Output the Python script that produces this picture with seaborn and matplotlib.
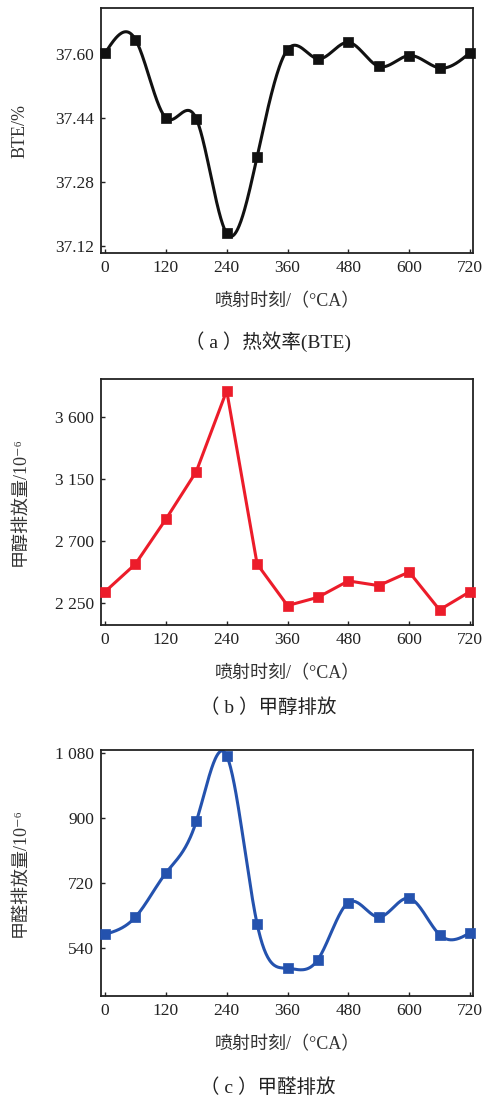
import numpy as np
import pandas as pd
import matplotlib
matplotlib.use("Agg")
import matplotlib.pyplot as plt
import seaborn as sns

# ---- data ----
angle = [0, 60, 120, 180, 240, 300, 360, 420, 480, 540, 600, 660, 720]
bte = [37.602, 37.636, 37.440, 37.438, 37.151, 37.343, 37.611, 37.588,
       37.629, 37.569, 37.596, 37.565, 37.603]
methanol = [2334, 2535, 2860, 3206, 3793, 2535, 2233, 2293, 2412, 2378,
            2477, 2202, 2334]
formaldehyde = [578, 626, 748, 891, 1073, 607, 484, 508, 666, 626, 678, 577, 582]

x_ticks = [0, 120, 240, 360, 480, 600, 720]
bte_ticks = [37.12, 37.28, 37.44, 37.60]
bte_ticklabels = ["37.12", "37.28", "37.44", "37.60"]
meth_ticks = [2250, 2700, 3150, 3600]
meth_ticklabels = ["2 250", "2 700", "3 150", "3 600"]
form_ticks = [540, 720, 900, 1080]
form_ticklabels = ["540", "720", "900", "1 080"]

xlabel = "喷射时刻/（°CA）"
ylabels = ["BTE/%", "甲醇排放量/10⁻⁶", "甲醛排放量/10⁻⁶"]
captions = ["（ a ）热效率(BTE)", "（ b ）甲醇排放", "（ c ）甲醛排放"]


def natural_spline(x, y, n=600):
    x = np.asarray(x, float)
    y = np.asarray(y, float)
    k = len(x)
    h = np.diff(x)
    A = np.zeros((k, k))
    r = np.zeros(k)
    A[0, 0] = A[-1, -1] = 1
    for i in range(1, k - 1):
        A[i, i - 1] = h[i - 1]
        A[i, i] = 2 * (h[i - 1] + h[i])
        A[i, i + 1] = h[i]
        r[i] = 6 * ((y[i + 1] - y[i]) / h[i] - (y[i] - y[i - 1]) / h[i - 1])
    M = np.linalg.solve(A, r)
    xs = np.linspace(x[0], x[-1], n)
    idx = np.clip(np.searchsorted(x, xs) - 1, 0, k - 2)
    x0, x1 = x[idx], x[idx + 1]
    hh = x1 - x0
    t0, t1 = x1 - xs, xs - x0
    ys = (M[idx] * t0 ** 3 + M[idx + 1] * t1 ** 3) / (6 * hh) \
        + (y[idx] / hh - M[idx] * hh / 6) * t0 \
        + (y[idx + 1] / hh - M[idx + 1] * hh / 6) * t1
    return xs, ys


sns.set_style("ticks")
FAM = ['Liberation Serif', 'Noto Sans CJK SC', 'DejaVu Serif']
plt.rcParams['font.family'] = FAM
plt.rcParams['axes.unicode_minus'] = False

fig = plt.figure(figsize=(4.84, 11.02), dpi=100)

W, H = 484, 1102
boxes = [(101, 8, 473, 253), (101, 379, 473, 625), (101, 750, 473, 996)]
colors = ["#111111", "#ec1c2a", "#2452ae"]
series = [bte, methanol, formaldehyde]
smooth = [True, False, True]
ylims = [(37.102, 37.715), (2092, 3878), (407, 1089)]
yticks = [(bte_ticks, bte_ticklabels), (meth_ticks, meth_ticklabels),
          (form_ticks, form_ticklabels)]
caption_y = [342, 708, 1088]

for i in range(3):
    l, t, r, b = boxes[i]
    ax = fig.add_axes([l / W, 1 - b / H, (r - l) / W, (b - t) / H])
    df = pd.DataFrame({"x": angle, "y": series[i]})
    if smooth[i]:
        xs, ys = natural_spline(angle, series[i])
        sdf = pd.DataFrame({"x": xs, "y": ys})
    else:
        sdf = df
    sns.lineplot(data=sdf, x="x", y="y", ax=ax, color=colors[i], lw=2.2,
                 sort=False, estimator=None)
    sns.scatterplot(data=df, x="x", y="y", ax=ax, color=colors[i], marker="s",
                    s=48, edgecolor=colors[i], linewidth=0.5, zorder=5,
                    clip_on=False)
    ax.set_xlim(-8, 726)
    ax.set_ylim(*ylims[i])
    ax.set_xticks(x_ticks)
    ax.set_xticklabels([str(v) for v in x_ticks])
    ax.set_yticks(yticks[i][0])
    ax.set_yticklabels(yticks[i][1])
    ax.tick_params(direction="in", length=3, width=1, labelsize=12.5,
                   colors="#222222", pad=5)
    for sp in ax.spines.values():
        sp.set_linewidth(1.3)
        sp.set_color("#222222")
    ax.set_xlabel(xlabel, fontsize=13, color="#333333", labelpad=12)
    ax.set_ylabel(ylabels[i], fontsize=13, color="#333333")
    ax.yaxis.set_label_coords(-0.195, 0.5)
    fig.text(268 / W, 1 - caption_y[i] / H, captions[i],
             ha="center", va="center", fontsize=14, color="#222222")

fig.savefig("out.png", dpi=100)
